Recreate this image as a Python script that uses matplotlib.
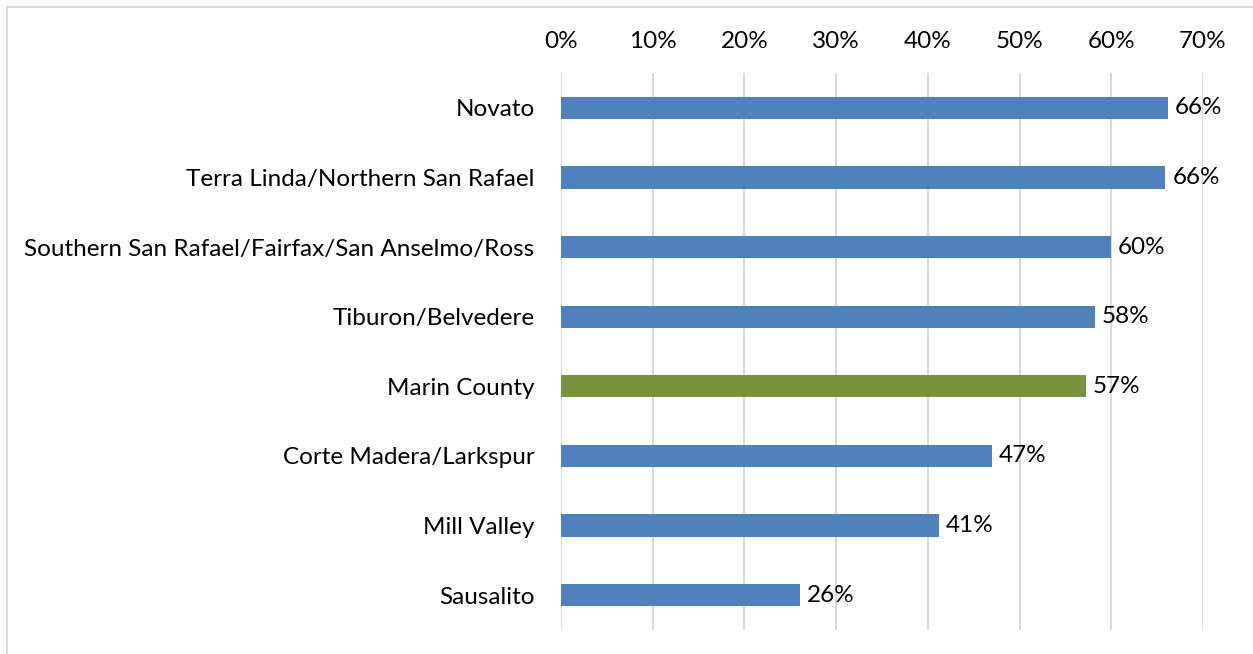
import matplotlib
matplotlib.use('Agg')
import matplotlib.pyplot as plt
from matplotlib.lines import Line2D
import numpy as np

areas = ['Novato', 'Terra Linda/Northern San Rafael',
         'Southern San Rafael/Fairfax/San Anselmo/Ross', 'Tiburon/Belvedere',
         'Marin County', 'Corte Madera/Larkspur', 'Mill Valley', 'Sausalito']
pct = [66.2, 65.9, 60.0, 58.2, 57.2, 47.0, 41.2, 26.1]
ticks = [0, 10, 20, 30, 40, 50, 60, 70]

blue = '#4f81bd'
green = '#77933c'

plt.rcParams['font.family'] = ['Lato', 'DejaVu Sans']

fig = plt.figure(figsize=(12.53, 6.54), dpi=100)
ax = fig.add_axes([0.4477, 0.0367, 0.5124, 0.8516])

y_pos = np.arange(len(areas))
colors = [green if a == 'Marin County' else blue for a in areas]
ax.barh(y_pos, pct, height=0.32, color=colors, zorder=3)

for y, v in zip(y_pos, pct):
    ax.text(v + 0.75, y, '%d%%' % round(v), va='center', ha='left',
            fontsize=17.5, color='#000000')

ax.set_xlim(0, 70)
ax.set_ylim(len(areas) - 0.5, -0.5)
ax.set_xticks(ticks)
ax.set_xticklabels(['%d%%' % t for t in ticks])
ax.xaxis.tick_top()
ax.set_yticks(y_pos)
ax.set_yticklabels(areas)
ax.tick_params(axis='both', length=0, labelsize=17.5, colors='#000000')
ax.tick_params(axis='x', pad=15)
ax.tick_params(axis='y', pad=19)
ax.grid(axis='x', color='#d9d9d9', linewidth=1.5, zorder=0)
for s in ax.spines.values():
    s.set_visible(False)

# chart area border (top and left visible)
fig.add_artist(Line2D([7 / 1253, 7 / 1253], [0, 1 - 7 / 654],
                      color='#d9d9d9', linewidth=1.5, transform=fig.transFigure))
fig.add_artist(Line2D([7 / 1253, 1], [1 - 7 / 654, 1 - 7 / 654],
                      color='#d9d9d9', linewidth=1.5, transform=fig.transFigure))

plt.savefig('out.png')
